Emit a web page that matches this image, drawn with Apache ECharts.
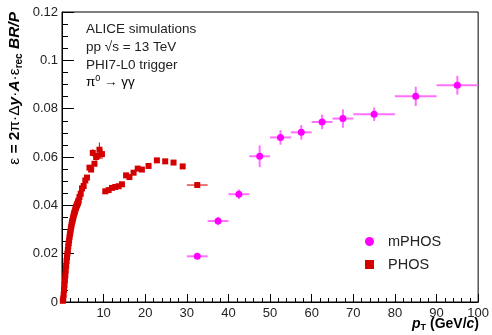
<!DOCTYPE html>
<html>
<head>
<meta charset="utf-8">
<script src="https://cdn.jsdelivr.net/npm/echarts@6/dist/echarts.min.js"></script>
<style>
html, body { margin: 0; padding: 0; background: #fff; }
#chart { width: 492px; height: 335px; }
</style>
</head>
<body>
<div id="chart"></div>
<script>
// mPHOS points
var mphosX    = [32.5, 37.5, 42.5, 47.5, 52.5, 57.5, 62.5, 67.5, 75, 85, 95];
var mphosY    = [0.0189, 0.0335, 0.0446, 0.0603, 0.0681, 0.0702, 0.0745, 0.0759, 0.0777, 0.0851, 0.0897];
var mphosXErr = [2.5, 2.5, 2.5, 2.5, 2.5, 2.5, 2.5, 2.5, 5, 5, 5];
var mphosYErr = [0.0008, 0.0017, 0.002, 0.0045, 0.003, 0.003, 0.003, 0.0038, 0.0028, 0.004, 0.0039];

// PHOS, fine bins at low pT (errors too small to see)
var phosLowX = [0.2, 0.3, 0.4, 0.5, 0.6, 0.7, 0.8, 0.9, 1.0, 1.1, 1.2, 1.3, 1.4, 1.5, 1.6, 1.7, 1.8, 1.9, 2.0,
                2.1, 2.2, 2.3, 2.4, 2.5, 2.6, 2.7, 2.8, 2.9, 3.0, 3.1, 3.2, 3.3, 3.4, 3.5, 3.6, 3.7, 3.8, 3.9, 4.0];
var phosLowY = [0.0005, 0.0015, 0.003, 0.005, 0.007, 0.009, 0.011, 0.013, 0.015, 0.017, 0.0185, 0.020, 0.0215, 0.023, 0.0243, 0.0255, 0.0268, 0.028, 0.029,
                0.030, 0.031, 0.032, 0.033, 0.0335, 0.0343, 0.035, 0.0358, 0.0365, 0.037, 0.0375, 0.0382, 0.0388, 0.0393, 0.0398, 0.0402, 0.0405, 0.041, 0.0415, 0.042];

// PHOS, wider bins
var phosX = [4.2, 4.5, 4.8, 5.2, 5.6, 6.0, 6.6, 7.0, 7.4, 7.8, 8.2, 8.6, 9.0, 9.6,
             10.4, 11.2, 12.0, 12.8, 13.6, 14.4, 15.4, 16.2, 17.2, 18.2, 19.2, 20.8, 22.8, 24.8, 26.8, 29.0, 32.5];
var phosY = [0.0435, 0.0448, 0.047, 0.048, 0.0503, 0.0515, 0.0556, 0.0548, 0.0617, 0.0572, 0.0600, 0.0605, 0.063, 0.0612,
             0.0458, 0.0463, 0.0472, 0.0476, 0.0479, 0.0487, 0.0524, 0.0517, 0.0535, 0.0552, 0.0548, 0.0563, 0.0586, 0.0582, 0.0577, 0.0561, 0.0484];
var phosXErr = [0, 0, 0, 0, 0, 0, 0, 0, 0, 0, 0, 0, 0, 0,
                0, 0, 0, 0, 0, 0, 0, 0, 0, 0, 0, 0, 0, 0, 0, 0, 2.5];
var phosYErr = [0, 0, 0, 0, 0, 0, 0.0008, 0.0008, 0.0015, 0.001, 0.0015, 0.0012, 0.003, 0.002,
                0, 0, 0, 0, 0, 0, 0, 0, 0, 0, 0, 0, 0, 0, 0, 0, 0];

var xTicks = [0, 10, 20, 30, 40, 50, 60, 70, 80, 90, 100];
var yTicks = [0, 0.02, 0.04, 0.06, 0.08, 0.1, 0.12];

var FONT = '"Liberation Sans", Arial, Helvetica, sans-serif';

function pack(xs, ys, xe, ye) {
	var out = [];
	for (var i = 0; i < xs.length; i++) out.push([xs[i], ys[i], xe ? xe[i] : 0, ye ? ye[i] : 0]);
	return out;
}

function errorBars(color, width) {
	return function (params, api) {
		var x = api.value(0), y = api.value(1), xe = api.value(2), ye = api.value(3);
		var kids = [];
		var st = {stroke: color, lineWidth: width};
		if (xe > 0) {
			var a = api.coord([x - xe, y]), b = api.coord([x + xe, y]);
			kids.push({type: 'line', shape: {x1: a[0], y1: a[1], x2: b[0], y2: b[1]}, style: st});
		}
		if (ye > 0) {
			var c = api.coord([x, y - ye]), d = api.coord([x, y + ye]);
			kids.push({type: 'line', shape: {x1: c[0], y1: c[1], x2: d[0], y2: d[1]}, style: st});
		}
		return {type: 'group', children: kids};
	};
}

var mphosData = pack(mphosX, mphosY, mphosXErr, mphosYErr);
var phosData = pack(phosLowX, phosLowY).concat(pack(phosX, phosY, phosXErr, phosYErr));

var chart = echarts.init(document.getElementById('chart'));
var option = {
	animation: false,
	textStyle: {fontFamily: FONT},
	grid: {left: 62, right: 13, top: 12, bottom: 33, show: true, borderColor: '#000', borderWidth: 1},
	legend: {
		data: ['mPHOS', 'PHOS'],
		orient: 'vertical',
		left: 360, top: 229,
		itemWidth: 9, itemHeight: 9, itemGap: 8,
		textStyle: {fontSize: 14.5, color: '#222', fontFamily: FONT, padding: [0, 0, 0, 9]}
	},
	xAxis: {
		type: 'value', min: 0, max: 100, interval: 10,
		axisLine: {lineStyle: {color: '#000'}},
		axisTick: {inside: true, length: 8, lineStyle: {color: '#000'}},
		minorTick: {show: true, splitNumber: 5, length: 4, lineStyle: {color: '#000'}},
		splitLine: {show: false},
		axisLabel: {
			fontSize: 13, color: '#222', margin: 5, fontFamily: FONT,
			formatter: function (v) { return (v === 0 || xTicks.indexOf(v) < 0) ? '' : String(v); }
		}
	},
	yAxis: {
		type: 'value', min: 0, max: 0.12, interval: 0.02,
		axisLine: {lineStyle: {color: '#000'}},
		axisTick: {inside: true, length: 12, lineStyle: {color: '#000'}},
		minorTick: {show: true, splitNumber: 4, length: 6, lineStyle: {color: '#000'}},
		splitLine: {show: false},
		axisLabel: {
			fontSize: 13, color: '#222', margin: 4, fontFamily: FONT,
			formatter: function (v) { return String(+v.toFixed(3)); }
		}
	},
	graphic: [
		{type: 'text', left: 86, top: 22, style: {text: 'ALICE simulations', font: '13.5px ' + FONT, fill: '#222'}},
		{type: 'text', left: 86, top: 40, style: {text: 'pp \u221As = 13 TeV', font: '13.5px ' + FONT, fill: '#222'}},
		{type: 'text', left: 86, top: 58, style: {text: 'PHI7-L0 trigger', font: '13.5px ' + FONT, fill: '#222'}},
		{type: 'text', left: 86, top: 74, style: {
			text: '{n|\u03C0}{sup|0}{n| \u2192 \u03B3\u03B3}',
			rich: {
				n: {fontSize: 13.5, fontFamily: FONT, color: '#222'},
				sup: {fontSize: 9, fontFamily: FONT, color: '#222', padding: [0, 0, 8, 0]}
			}
		}},
		{type: 'text', x: 15, y: 12, rotation: Math.PI / 2, style: {
			text: '{n|\u03B5 }{b|= 2}{n|\u03C0\u00B7\u0394}{bi|y}{n|\u00B7}{bi|A}{n|\u00B7\u03B5}{sub|rec}{bi| BR/P}',
			align: 'right', verticalAlign: 'middle',
			rich: {
				n: {fontSize: 15.5, fontFamily: FONT, color: '#000'},
				b: {fontSize: 15.5, fontFamily: FONT, fontWeight: 'bold', color: '#000'},
				bi: {fontSize: 15.5, fontFamily: FONT, fontWeight: 'bold', fontStyle: 'italic', color: '#000'},
				sub: {fontSize: 10, fontFamily: FONT, fontWeight: 'bold', color: '#000', padding: [8, 0, 0, 0]}
			}
		}},
		{type: 'text', x: 479, y: 324, style: {
			text: '{bi|p}{sub|T}{b| (GeV/}{bi|c}{b|)}',
			align: 'right', verticalAlign: 'middle',
			rich: {
				b: {fontSize: 14, fontFamily: FONT, fontWeight: 'bold', color: '#000'},
				bi: {fontSize: 14, fontFamily: FONT, fontWeight: 'bold', fontStyle: 'italic', color: '#000'},
				sub: {fontSize: 9, fontFamily: FONT, fontWeight: 'bold', color: '#000', padding: [8, 0, 0, 0]}
			}
		}}
	],
	series: [
		{
			name: 'mPHOS err', type: 'custom', data: mphosData, z: 2,
			renderItem: errorBars('#ff70ff', 2), encode: {x: 0, y: 1}, silent: true
		},
		{
			name: 'PHOS err', type: 'custom', data: phosData, z: 2,
			renderItem: errorBars('#d42020', 1.2), encode: {x: 0, y: 1}, silent: true
		},
		{
			name: 'mPHOS', type: 'scatter', data: mphosData, z: 3,
			symbol: 'circle', symbolSize: 7,
			itemStyle: {color: '#ff00ff', opacity: 1}
		},
		{
			name: 'PHOS', type: 'scatter', data: phosData, z: 3,
			symbol: 'rect', symbolSize: 6,
			itemStyle: {color: '#d40000', opacity: 1}
		}
	]
};
chart.setOption(option);
</script>
</body>
</html>
